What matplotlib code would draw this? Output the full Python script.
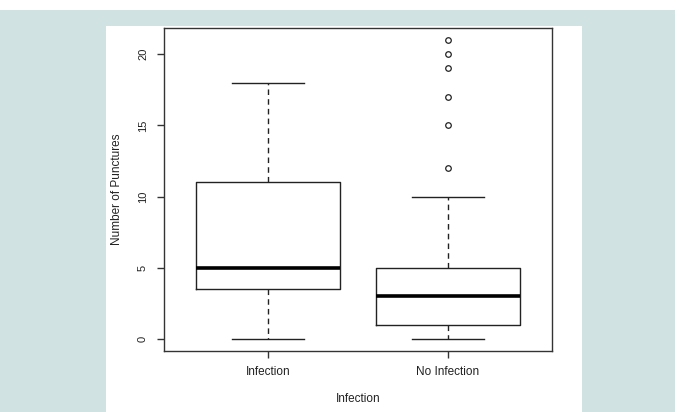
import matplotlib
matplotlib.use("Agg")
import matplotlib.pyplot as plt
from matplotlib.patches import Rectangle

# Box statistics
groups = ["Infection", "No Infection"]
whisker_low = [0, 0]
q1 = [3.5, 1]
medians = [5, 3]
q3 = [11, 5]
whisker_high = [18, 10]
outliers = [[], [12, 15, 17, 19, 20, 21]]
y_ticks = [0, 5, 10, 15, 20]

plt.rcParams["font.family"] = ["Liberation Sans", "DejaVu Sans"]

fig = plt.figure(figsize=(6.8, 4.12), dpi=100)
fig.patch.set_facecolor("white")
# page background and white panel, kept behind the axes
fig.add_artist(Rectangle((0, 0), 675 / 680, 402 / 412, transform=fig.transFigure,
                         facecolor="#d1e2e2", edgecolor="none", zorder=-10))
fig.add_artist(Rectangle((106 / 680, 0), 476 / 680, 386 / 412, transform=fig.transFigure,
                         facecolor="white", edgecolor="none", zorder=-9))

ax = fig.add_axes([164 / 680, 61 / 412, 388 / 680, 323 / 412])
ax.set_facecolor("white")

stats = []
for i, name in enumerate(groups):
    stats.append({
        "label": name,
        "whislo": whisker_low[i],
        "q1": q1[i],
        "med": medians[i],
        "q3": q3[i],
        "whishi": whisker_high[i],
        "fliers": outliers[i],
    })

ink = "#222222"
ax.bxp(
    stats,
    positions=[1, 2],
    widths=0.8,
    showfliers=True,
    boxprops=dict(color=ink, linewidth=1.0),
    medianprops=dict(color="black", linewidth=2.6, solid_capstyle="butt"),
    whiskerprops=dict(color=ink, linewidth=1.0, linestyle=(0, (4, 3))),
    capprops=dict(color=ink, linewidth=1.0),
    capwidths=0.4,
    flierprops=dict(marker="o", markersize=4, markerfacecolor="none",
                    markeredgecolor=ink, markeredgewidth=0.9),
)

ax.set_xlim(0.42, 2.58)
ax.set_ylim(-0.84, 21.84)
ax.set_yticks(y_ticks)
ax.set_yticklabels([str(t) for t in y_ticks], rotation=90, va="center")
ax.set_xticks([1, 2])
ax.set_xticklabels(groups)

for s in ax.spines.values():
    s.set_color("#333333")
    s.set_linewidth(1.0)
ax.tick_params(axis="both", colors="#333333", labelcolor="#222222",
               length=5, width=1.0, labelsize=8)
ax.tick_params(axis="y", pad=6.5)
ax.tick_params(axis="x", pad=6, labelsize=8.5)

ax.set_xlabel("Infection", fontsize=8.5, color="#222222", labelpad=10.5)
ax.set_ylabel("Number of Punctures", fontsize=8.5, color="#222222", labelpad=11)

plt.savefig("out.png", dpi=100, facecolor="white")
